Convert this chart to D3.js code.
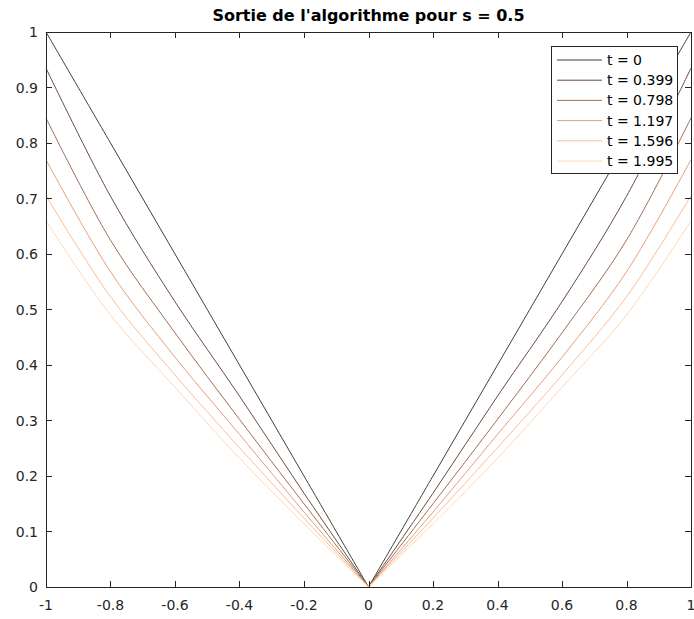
<!DOCTYPE html>
<html><head><meta charset="utf-8">
<script src="https://cdn.jsdelivr.net/npm/d3@7"></script>
<style>body{margin:0;background:#fff;} svg{display:block;font-family:"DejaVu Sans",sans-serif;}</style>
</head><body>
<svg id="c" width="694" height="619"></svg>
<script>
const title = "Sortie de l'algorithme pour s = 0.5";
const xs = [-1, -0.8, -0.6, -0.4, -0.2, 0, 0.2, 0.4, 0.6, 0.8, 1];
const tLabels = ["t = 0", "t = 0.399", "t = 0.798", "t = 1.197", "t = 1.596", "t = 1.995"];
const y_t0    = [1.000, 0.800, 0.600, 0.400, 0.200, 0, 0.200, 0.400, 0.600, 0.800, 1.000];
const y_t0399 = [0.935, 0.704, 0.514, 0.344, 0.169, 0, 0.169, 0.344, 0.514, 0.704, 0.935];
const y_t0798 = [0.845, 0.625, 0.458, 0.302, 0.150, 0, 0.150, 0.302, 0.458, 0.625, 0.845];
const y_t1197 = [0.770, 0.568, 0.414, 0.275, 0.135, 0, 0.135, 0.275, 0.414, 0.568, 0.770];
const y_t1596 = [0.705, 0.523, 0.382, 0.251, 0.124, 0, 0.124, 0.251, 0.382, 0.523, 0.705];
const y_t1995 = [0.660, 0.490, 0.360, 0.232, 0.114, 0, 0.114, 0.232, 0.360, 0.490, 0.660];
const series = [y_t0, y_t0399, y_t0798, y_t1197, y_t1596, y_t1995];
const colors = ["#404040", "#6a4c3c", "#a06e55", "#e69e7a", "#ffbc92", "#ffd8b2"];
const xTicks = [-1, -0.8, -0.6, -0.4, -0.2, 0, 0.2, 0.4, 0.6, 0.8, 1];
const yTicks = [0, 0.1, 0.2, 0.3, 0.4, 0.5, 0.6, 0.7, 0.8, 0.9, 1];

const L = 46, R = 691, T = 32, B = 587;
const svg = d3.select("#c");
const x = d3.scaleLinear().domain([-1, 1]).range([L, R]);
const y = d3.scaleLinear().domain([0, 1]).range([B, T]);
const fmt = d => String(+d.toFixed(1));

// curves: each arm drawn separately to keep the kink at 0
const g = svg.append("g");
const ln = d3.line().x(p => x(p[0])).y(p => y(p[1])).curve(d3.curveCatmullRom.alpha(0.5));
series.forEach((s, k) => {
  const pts = s.map((v, i) => [xs[i], v]);
  const left = pts.filter(p => p[0] <= 0);
  const right = pts.filter(p => p[0] >= 0);
  [left, right].forEach(arm => g.append("path").attr("d", ln(arm))
    .attr("fill", "none").attr("stroke", colors[k]).attr("stroke-width", 1));
});

// axes with inward ticks, box
const axCol = "#262626";
const ax = svg.append("g").attr("fill", "none").attr("stroke", axCol).attr("stroke-width", 1).attr("shape-rendering","crispEdges");
ax.append("rect").attr("x", L).attr("y", T).attr("width", R - L).attr("height", B - T);
xTicks.forEach(v => {
  const px = Math.round(x(v)) + 0.5;
  ax.append("line").attr("x1", px).attr("x2", px).attr("y1", B).attr("y2", B - 6);
  ax.append("line").attr("x1", px).attr("x2", px).attr("y1", T).attr("y2", T + 6);
});
yTicks.forEach(v => {
  ax.append("line").attr("x1", L).attr("x2", L + 6).attr("y1", y(v)).attr("y2", y(v));
  ax.append("line").attr("x1", R).attr("x2", R - 6).attr("y1", y(v)).attr("y2", y(v));
});
const tx = svg.append("g").attr("fill", axCol).attr("font-size", 14);
xTicks.forEach(v => tx.append("text").attr("x", x(v)).attr("y", B + 23).attr("text-anchor", "middle").text(fmt(v)));
yTicks.forEach(v => tx.append("text").attr("x", L - 8).attr("y", y(v) + 5).attr("text-anchor", "end").text(fmt(v)));

svg.append("text").attr("x", (L + R) / 2).attr("y", 21).attr("text-anchor", "middle")
  .attr("font-size", 16).attr("font-weight", "bold").attr("fill", "#000").text(title);

// legend
const lg = svg.append("g");
lg.append("rect").attr("x", 551.5).attr("y", 46.5).attr("width", 126).attr("height", 127)
  .attr("fill", "#fff").attr("stroke", axCol).attr("stroke-width", 1);
tLabels.forEach((t, i) => {
  const yy = 60 + i * 20.2;
  lg.append("line").attr("x1", 557).attr("x2", 602).attr("y1", yy).attr("y2", yy)
    .attr("stroke", colors[i]).attr("stroke-width", 1);
  lg.append("text").attr("x", 607).attr("y", yy + 5).attr("font-size", 14).attr("fill", "#000").text(t);
});
</script>
</body></html>
